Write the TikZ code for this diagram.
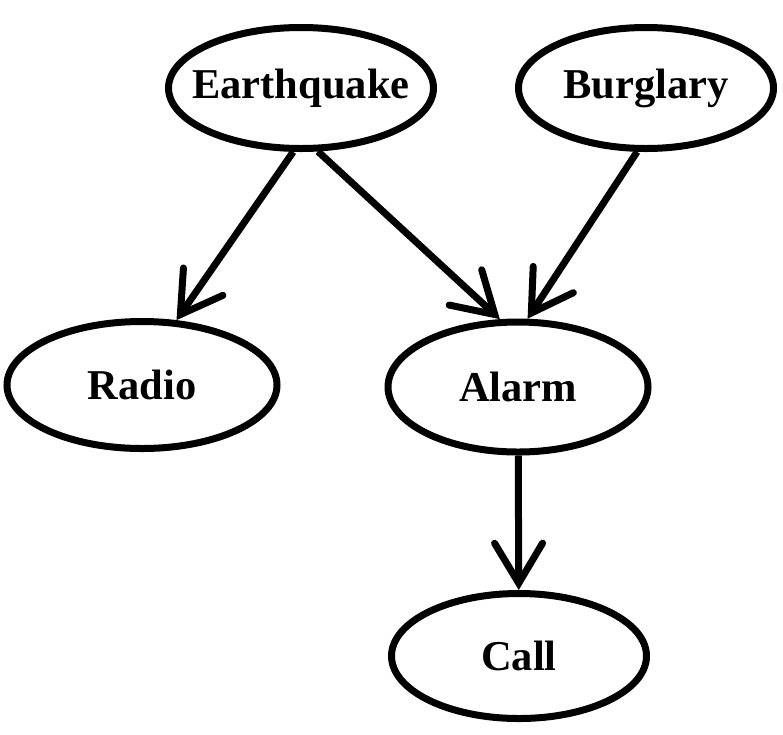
\documentclass[tikz,border=0pt]{standalone}
\usepackage{fontspec}
\setmainfont{Liberation Serif}
\usetikzlibrary{positioning,shapes.geometric,arrows.meta}

\begin{document}
\begin{tikzpicture}
            [
                x=1pt, y=-1pt,
                var/.style={ellipse, draw, line width=7pt, inner xsep=-40pt, inner ysep=0pt,
                    font=\fontsize{42.5}{50}\selectfont\bfseries},
                edge/.style={line width=7pt,
                    -{Straight Barb[length=40pt,width=48pt,line cap=round]}}
            ]
            \useasboundingbox (0,0) rectangle (783,734);

            % variables
            \node[var, minimum width=265pt, minimum height=121pt] (eq) at (301,88) {Earthquake};
            \node[var, minimum width=255pt, minimum height=121pt] (burg) at (646,88) {Burglary};
            \node[var, minimum width=270pt, minimum height=127pt] (radio) at (142,385) {Radio};
            \node[var, minimum width=260pt, minimum height=130pt] (alarm) at (518,387) {Alarm};
            \node[var, minimum width=255pt, minimum height=125pt] (call) at (519,656) {Call};

            % dependencies
            \draw[edge] (eq.263) -- (radio.62);
            \draw[edge] (eq.285) -- (alarm.105);
            \draw[edge] (burg.262) -- (alarm.82);
            \draw[edge] (alarm) -- (call);
        \end{tikzpicture}
\end{document}
